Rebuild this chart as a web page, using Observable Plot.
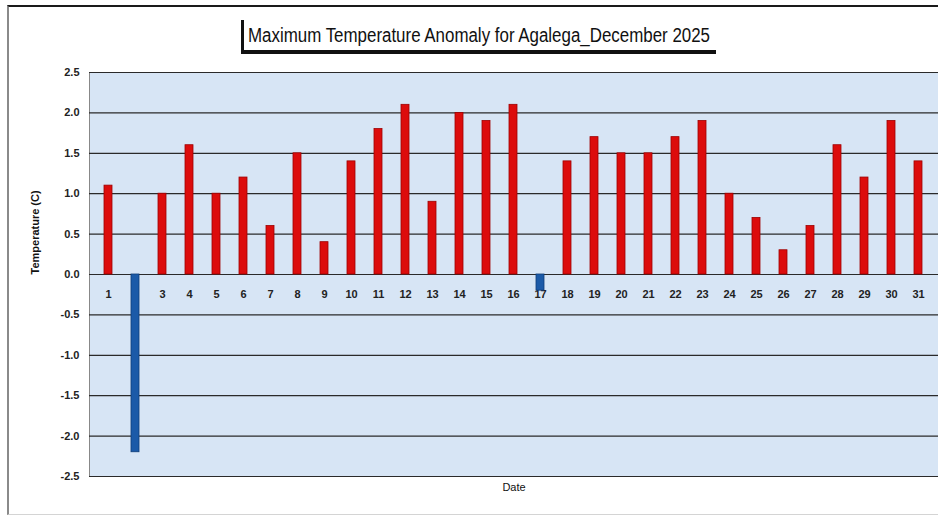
<!DOCTYPE html>
<html><head><meta charset="utf-8">
<script src="https://cdn.jsdelivr.net/npm/d3@7"></script>
<script src="https://cdn.jsdelivr.net/npm/@observablehq/plot@0.6"></script>
<style>
body{margin:0;background:#fff;width:938px;height:520px;overflow:hidden;position:relative;font-family:"Liberation Sans",Arial,sans-serif}
#frame{position:absolute;left:7px;top:5px;width:940px;height:510px;border-top:2px solid #1a1a1a;border-left:2px solid #8a8a8a;border-bottom:1px solid #d4d4d4;box-sizing:border-box}
#chart{position:absolute;left:0;top:0}
#title{position:absolute;left:241px;top:20px;width:466px;height:30px;padding:0 2px 0 4px;border-left:3px solid #111;border-bottom:4px solid #111;color:#111;white-space:nowrap;overflow:visible}
#title span{display:inline-block;font-size:20px;line-height:30px;transform-origin:0 50%}
</style></head><body>
<div id="frame"></div>
<div id="chart"></div>
<div id="title"><span>Maximum Temperature Anomaly for Agalega_December 2025</span></div>
<script>
const days = [1,2,3,4,5,6,7,8,9,10,11,12,13,14,15,16,17,18,19,20,21,22,23,24,25,26,27,28,29,30,31];
const anomalies = [1.1,-2.2,1.0,1.6,1.0,1.2,0.6,1.5,0.4,1.4,1.8,2.1,0.9,2.0,1.9,2.1,-0.2,1.4,1.7,1.5,1.5,1.7,1.9,1.0,0.7,0.3,0.6,1.6,1.2,1.9,1.4];
const yTicks = [2.5,2.0,1.5,1.0,0.5,0.0,-0.5,-1.0,-1.5,-2.0,-2.5];
const yLabel = "Temperature (C)";
const xLabel = "Date";

const data = days.map((d,i)=>({day:d, value:anomalies[i]}));

const chart = Plot.plot({
  width: 938,
  height: 520,
  marginTop: 72,
  marginLeft: 89,
  marginRight: 0,
  marginBottom: 44,
  style: {fontFamily: '"Liberation Sans",Arial,sans-serif', fontSize: "11px", color: "#222", background: "transparent"},
  x: {type: "band", domain: days, paddingInner: 0.7, paddingOuter: 0.35, axis: null},
  y: {domain: [-2.5, 2.5], axis: null},
  marks: [
    Plot.frame({fill: "#d7e5f5", stroke: null}),
    Plot.frame({anchor: "left", stroke: "#888", strokeWidth: 1}),
    Plot.ruleY(yTicks, {stroke: "#2a2a2a", strokeWidth: 1.2}),
    Plot.axisY({ticks: yTicks, tickSize: 0, tickPadding: 10, tickFormat: d => d.toFixed(1), fontWeight: "bold", label: null}),
    Plot.text(days, {x: d => d, y: () => 0, dy: 20, text: d => String(d), fontWeight: "bold", fill: "#222"}),
    Plot.barY(data, {x: "day", y: "value", fill: d => d.value < 0 ? "#1b5aa8" : "#dc0c0c", stroke: d => d.value < 0 ? "#0e3c78" : "#9e0000", strokeWidth: 0.8}),
    Plot.text([yLabel], {frameAnchor: "left", dx: -54, rotate: -90, text: d => d, fontWeight: "bold", fontSize: 11, fill: "#111", style: "letter-spacing:1px"}),
    Plot.text([xLabel], {frameAnchor: "bottom", dy: 14, text: d => d, fontSize: 11, fill: "#111"})
  ]
});
document.getElementById("chart").append(chart);
const span = document.querySelector("#title span");
const w = span.getBoundingClientRect().width;
span.style.transform = `scaleX(${462 / w})`;
</script>
</body></html>
